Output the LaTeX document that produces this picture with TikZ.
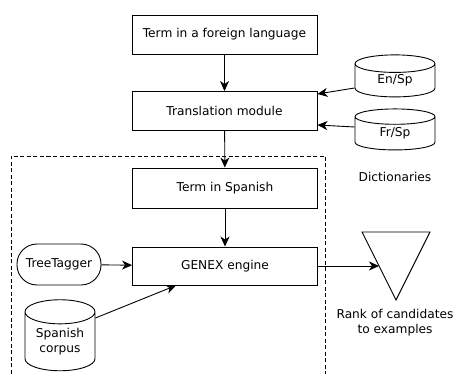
\documentclass[tikz,border=0pt]{standalone}
\usepackage{fontspec}
\setmainfont{DejaVu Sans}
\usetikzlibrary{
  shapes.geometric,
  arrows.meta
}

\begin{document}
\begin{tikzpicture}[x=1pt,y=1pt,line width=0.9pt,
	font=\fontsize{12.2}{15}\selectfont,
	box/.style={draw, minimum width=185pt, minimum height=39pt, inner sep=0pt},
	db/.style={draw, cylinder, shape border rotate=90, shape aspect=0.5, inner sep=0pt, align=center},
	flow/.style={-{Stealth[length=10pt,width=9pt,inset=3pt]}},
]
	\useasboundingbox (0,0) rectangle (453,-374);
	% main chain
	\node[box] (term) at (224.5,-34.5) {Term in a foreign language};
	\node[box] (trans) at (224.5,-111) {Translation module};
	\node[box, minimum height=40pt] (spterm) at (225,-188) {Term in Spanish};
	\node[box, minimum height=38pt] (genex) at (225,-266) {GENEX engine};
	% dictionaries
	\node[db, minimum width=80pt, minimum height=42pt] (ensp) at (395,-80.5) {En/Sp};
	\node[db, minimum width=80pt, minimum height=41pt] (frsp) at (395,-133.5) {Fr/Sp};
	\node (dict) at (395,-177) {Dictionaries};
	% inputs of the engine
	\node[draw, rounded corners=20pt, minimum width=84pt, minimum height=41pt, inner sep=0pt] (tagger) at (59,-264.5) {TreeTagger};
	\node[db, minimum width=70pt, minimum height=71pt] (corpus) at (60,-341.5) {Spanish\\corpus};
	% output
	\draw (362,-232) -- (430,-232) -- (396,-300) -- cycle;
	\coordinate (rank) at (379,-266);
	\node[align=center] (ranklbl) at (395,-322.5) {Rank of candidates\\to examples};
	% dashed frame
	\draw[dashed, dash pattern=on 4pt off 2.5pt, line width=0.6pt] (11,-374) -- (11,-156) -- (325,-156) -- (325,-374);
	% connectors
	\draw[flow] (term) -- (trans);
	\draw[flow] (trans) -- (spterm);
	\draw[flow] (spterm) -- (genex);
	\draw[flow] ([yshift=-7.5pt]ensp.west) -- ([yshift=17pt]trans.east);
	\draw[flow] ([yshift=6.5pt]frsp.west) -- ([yshift=-14pt]trans.east);
	\draw[flow] (tagger) -- (genex);
	\draw[flow] ([yshift=23.5pt]corpus.east) -- ([xshift=-49pt]genex.south);
	\draw[flow] (genex) -- (rank);
\end{tikzpicture}
\end{document}
